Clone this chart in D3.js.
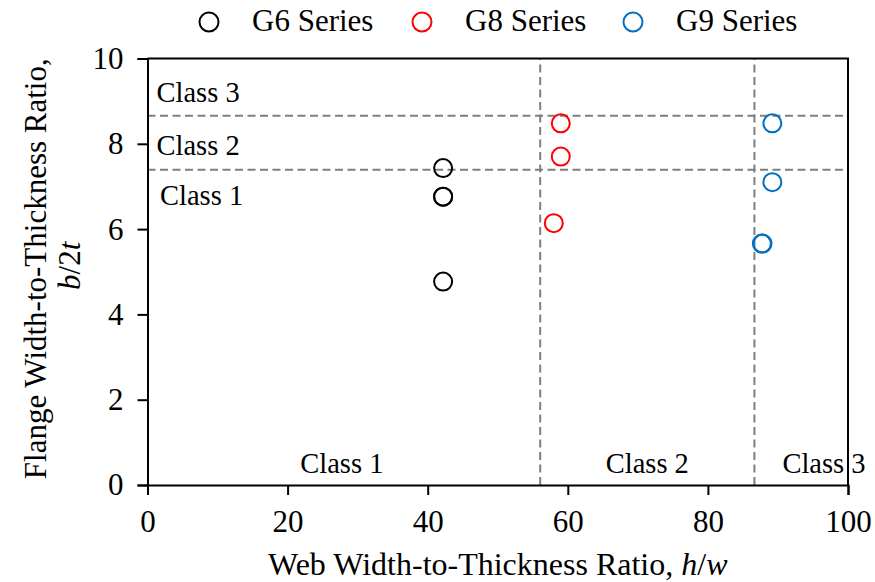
<!DOCTYPE html>
<html>
<head>
<meta charset="utf-8">
<script src="https://cdn.jsdelivr.net/npm/d3@7/dist/d3.min.js"></script>
<style>
  html, body { margin: 0; padding: 0; background: #fff; }
  svg text { font-family: "Liberation Serif", "Times New Roman", serif; fill: #000; }
</style>
</head>
<body>
<svg id="chart" width="875" height="582"></svg>
<script>
// Specimen slenderness ratios: web h/w and flange b/2t
const seriesNames = ["G6 Series", "G8 Series", "G9 Series"];
const seriesColors = ["#000000", "#FF0000", "#0070C0"];
const g6Web = [42.2, 42.2, 42.2, 42.2];
const g6Flange = [7.43, 6.76, 6.76, 4.77];
const g8Web = [59.0, 59.0, 58.0];
const g8Flange = [8.48, 7.70, 6.14];
const g9Web = [89.2, 89.2, 87.8, 87.7];
const g9Flange = [8.48, 7.10, 5.66, 5.66];

// Section class limits
const webLimits = [56.06, 86.64];
const flangeLimits = [7.39, 8.66];
const webClassLabels = ["Class 1", "Class 2", "Class 3"];
const flangeClassLabels = ["Class 1", "Class 2", "Class 3"];

const xTicks = [0, 20, 40, 60, 80, 100];
const yTicks = [0, 2, 4, 6, 8, 10];

const W = 875, H = 582;
const margin = { left: 147.5, right: 27, top: 58.5, bottom: 97 };
const svg = d3.select("#chart");

const x = d3.scaleLinear().domain([0, 100]).range([margin.left, W - margin.right]);
const y = d3.scaleLinear().domain([0, 10]).range([H - margin.bottom, margin.top]);

const series = [
  { name: seriesNames[0], color: seriesColors[0], pts: g6Web.map((v, i) => [v, g6Flange[i]]) },
  { name: seriesNames[1], color: seriesColors[1], pts: g8Web.map((v, i) => [v, g8Flange[i]]) },
  { name: seriesNames[2], color: seriesColors[2], pts: g9Web.map((v, i) => [v, g9Flange[i]]) }
];

// Class boundary lines
const dash = { stroke: "#7f7f7f", width: 2, arr: "8,4.5" };
svg.append("g").selectAll("line").data(webLimits).join("line")
  .attr("x1", d => x(d)).attr("x2", d => x(d))
  .attr("y1", y(0)).attr("y2", y(10))
  .attr("stroke", dash.stroke).attr("stroke-width", dash.width).attr("stroke-dasharray", dash.arr);
svg.append("g").selectAll("line").data(flangeLimits).join("line")
  .attr("x1", x(0)).attr("x2", x(100))
  .attr("y1", d => y(d)).attr("y2", d => y(d))
  .attr("stroke", dash.stroke).attr("stroke-width", dash.width).attr("stroke-dasharray", dash.arr);

// Class labels
const classFont = "28.5px";
const webLabelPos = [
  (0 + webLimits[0]) / 2,
  (webLimits[0] + webLimits[1]) / 2,
  webLimits[1] + 4.0
];
svg.append("g").selectAll("text").data(webClassLabels).join("text")
  .attr("x", (d, i) => x(webLabelPos[i]) - (i === 0 ? 2 : 0))
  .attr("y", y(0) - 12)
  .attr("text-anchor", (d, i) => i === 2 ? "start" : "middle")
  .attr("font-size", classFont)
  .text(d => d);
const flangeLabelY = [flangeLimits[0] - 0.82, flangeLimits[0] + 0.35, flangeLimits[1] + 0.32];
const flangeLabelX = [160, 156.5, 156.5];
svg.append("g").selectAll("text").data(flangeClassLabels).join("text")
  .attr("x", (d, i) => flangeLabelX[i])
  .attr("y", (d, i) => y(flangeLabelY[i]))
  .attr("font-size", classFont)
  .text(d => d);

// Axes
const xAxis = svg.append("g").attr("transform", `translate(0,${y(0)})`)
  .call(d3.axisBottom(x).tickValues(xTicks).tickSize(10).tickPadding(15).tickFormat(d3.format("d")));
const yAxis = svg.append("g").attr("transform", `translate(${x(0)},0)`)
  .call(d3.axisLeft(y).tickValues(yTicks).tickSize(10).tickPadding(14).tickFormat(d3.format("d")));
[xAxis, yAxis].forEach(a => {
  a.select(".domain").attr("stroke", "#000").attr("stroke-width", 2);
  a.selectAll(".tick line").attr("stroke", "#000").attr("stroke-width", 2);
  a.selectAll(".tick text").attr("font-size", "31px").attr("font-family", "Liberation Serif, Times New Roman, serif");
});

// Top and right frame
svg.append("path")
  .attr("d", `M${x(0)},${y(10)}H${x(100)}V${y(0)}`)
  .attr("fill", "none").attr("stroke", "#000").attr("stroke-width", 2);

// Points
series.forEach(s => {
  svg.append("g").selectAll("circle").data(s.pts).join("circle")
    .attr("cx", d => x(d[0])).attr("cy", d => y(d[1])).attr("r", 9)
    .attr("fill", "none").attr("stroke", s.color).attr("stroke-width", 2);
});

// Axis titles
const xt = svg.append("text")
  .attr("x", (x(0) + x(100)) / 2).attr("y", 575)
  .attr("text-anchor", "middle").attr("font-size", "32px");
xt.append("tspan").text("Web Width-to-Thickness Ratio, ");
xt.append("tspan").attr("font-style", "italic").text("h");
xt.append("tspan").text("/");
xt.append("tspan").attr("font-style", "italic").text("w");

const yMid = (y(0) + y(10)) / 2;
svg.append("text")
  .attr("transform", `translate(46,${yMid - 3}) rotate(-90)`)
  .attr("text-anchor", "middle").attr("font-size", "31px")
  .text("Flange Width-to-Thickness Ratio,");
const yt2 = svg.append("text")
  .attr("transform", `translate(80,${yMid - 6}) rotate(-90)`)
  .attr("text-anchor", "middle").attr("font-size", "31px");
yt2.append("tspan").attr("font-style", "italic").text("b");
yt2.append("tspan").text("/2");
yt2.append("tspan").attr("font-style", "italic").text("t");

// Legend
const legendX = [209, 422, 633];
const legend = svg.append("g").selectAll("g").data(series).join("g")
  .attr("transform", (d, i) => `translate(${legendX[i]},22)`);
legend.append("circle").attr("r", 9.5)
  .attr("fill", "none").attr("stroke", d => d.color).attr("stroke-width", 2);
legend.append("text").attr("x", 43).attr("y", 9)
  .attr("font-size", "31px").text(d => d.name);
</script>
</body>
</html>
